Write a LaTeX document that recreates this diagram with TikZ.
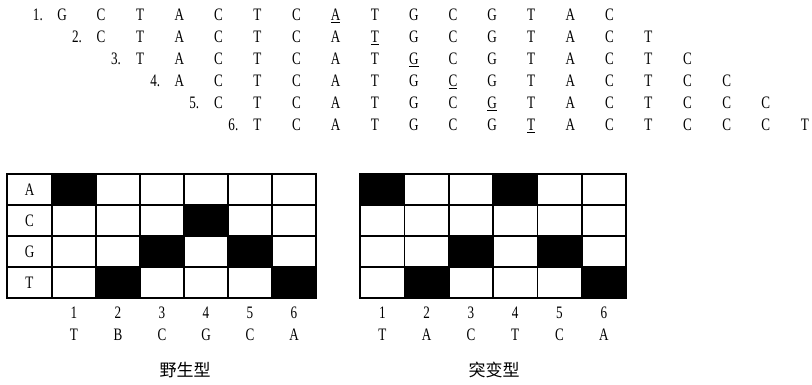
\documentclass[tikz,border=0pt]{standalone}
\usepackage{fontspec}
\setmainfont{Liberation Serif}[FakeStretch=0.75]
\newfontfamily\cjk{Noto Sans CJK SC}
\usetikzlibrary{positioning}

\begin{document}
\begin{tikzpicture}[x=1pt,y=-1pt,
    txt/.style={font=\fontsize{17.5}{19}\selectfont, inner sep=0pt},
    cell/.style={draw, line width=1.6pt, minimum width=44.2pt, minimum height=31pt, inner sep=0pt}]
    \useasboundingbox (0,0) rectangle (812,384);
    \def\seq{{"G","C","T","A","C","T","C","A","T","G","C","G","T","A","C","T","C","C","C","T"}}
    \foreach \r in {1,...,6} {
        \pgfmathsetmacro{\y}{20.5+22*(\r-1)}
        \node[txt, anchor=base east] (n\r) at ({43+39.1*(\r-1)},\y) {\r.};
        \foreach \k in {0,...,14} {
            \pgfmathtruncatemacro{\c}{\r-1+\k}
            \pgfmathsetmacro{\letter}{\seq[\c]}
            \ifnum\k=7
                \node[txt, anchor=base] (s\r-\k) at ({62+39.1*\c},\y) {\underline{\letter}};
            \else
                \node[txt, anchor=base] (s\r-\k) at ({62+39.1*\c},\y) {\letter};
            \fi
        }
    }
    \foreach \i/\b in {1/A,2/C,3/G,4/T} {
        \node[cell, minimum width=45pt, txt] (wl\i) at (29.5,{158.5+31*\i}) {\b};
        \foreach \c in {1,...,6} {
            \node[cell] (w\i-\c) at ({30+44*\c},{158.5+31*\i}) {};
            \node[cell] (m\i-\c) at ({338+44.3*\c},{158.5+31*\i}) {};
        }
    }
    \foreach \n in {w1-1,w2-4,w3-3,w3-5,w4-2,w4-6,m1-1,m1-4,m3-3,m3-5,m4-2,m4-6}
        \fill (\n.north west) rectangle (\n.south east);
    \foreach \c/\b/\d in {1/T/T,2/B/A,3/C/C,4/G/T,5/C/C,6/A/A} {
        \node[txt] (wn\c) at ({30+44*\c},313) {\c};
        \node[txt] (wb\c) at ({30+44*\c},335) {\b};
        \node[txt] (mn\c) at ({338+44.3*\c},313) {\c};
        \node[txt] (mb\c) at ({338+44.3*\c},335) {\d};
    }
    \node[font=\cjk\fontsize{17}{19}\selectfont] (wild) at (185,370) {野生型};
    \node[font=\cjk\fontsize{17}{19}\selectfont] (mutant) at (494,370) {突变型};
\end{tikzpicture}
\end{document}
